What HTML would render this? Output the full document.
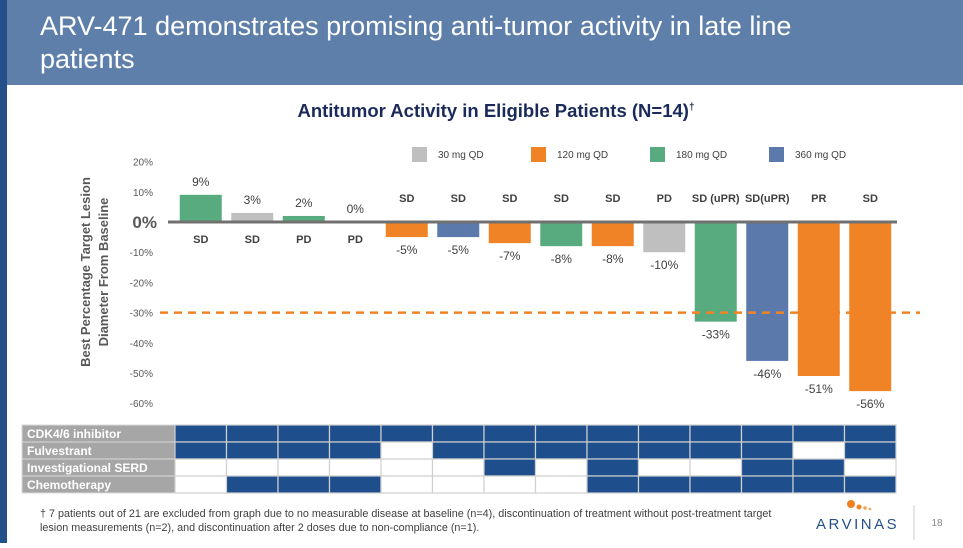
<!DOCTYPE html>
<html><head><meta charset="utf-8"><style>
body{margin:0;width:963px;height:543px;overflow:hidden;background:#fff;font-family:"Liberation Sans",sans-serif;}
</style></head><body>
<svg id="s" width="963" height="543" xmlns="http://www.w3.org/2000/svg" font-family="Liberation Sans, sans-serif">
<rect x="0" y="0" width="963" height="85" fill="#5f7fab"/>
<rect x="0" y="0" width="7" height="543" fill="#24508a"/>
<text x="40" y="35" font-size="27" fill="#fff">ARV-471 demonstrates promising anti-tumor activity in late line</text>
<text x="40" y="68" font-size="27" fill="#fff">patients</text>
<text x="496" y="117" font-size="18.5" font-weight="bold" fill="#1a2a5a" text-anchor="middle">Antitumor Activity in Eligible Patients (N=14)<tspan font-size="10" dy="-7">†</tspan></text>
<text transform="translate(90,272) rotate(-90)" font-size="13" font-weight="bold" fill="#595959" text-anchor="middle">Best Percentage Target Lesion</text>
<text transform="translate(108,272) rotate(-90)" font-size="13" font-weight="bold" fill="#595959" text-anchor="middle">Diameter From Baseline</text>
<g id="chart"></g>
<g id="table"></g>
<text x="40" y="517" font-size="10.8" fill="#404040">† 7 patients out of 21 are excluded from graph due to no measurable disease at baseline (n=4), discontinuation of treatment without post-treatment target</text>
<text x="40" y="531" font-size="10.8" fill="#404040">lesion measurements (n=2), and discontinuation after 2 doses due to non-compliance (n=1).</text>
<circle cx="851" cy="504" r="4" fill="#f08020"/>
<circle cx="859" cy="507" r="2.5" fill="#f08020"/>
<circle cx="865" cy="508" r="1.8" fill="#f5a050"/>
<circle cx="870" cy="509" r="1.3" fill="#f5a050"/>
<text x="816" y="529" font-size="15" fill="#24508a" letter-spacing="2.5">ARVINAS</text>
<line x1="914" y1="505" x2="914" y2="540" stroke="#ccc"/>
<text x="937" y="526" font-size="10" fill="#888" text-anchor="middle">18</text>
</svg>
<script>
const values=[9,3,2,0,-5,-5,-7,-8,-8,-10,-33,-46,-51,-56];
const doses=["180","30","180","180","120","360","120","180","120","30","180","360","120","120"];
const responses=["SD","SD","PD","PD","SD","SD","SD","SD","SD","PD","SD (uPR)","SD(uPR)","PR","SD"];
const yTicks=[20,10,0,-10,-20,-30,-40,-50,-60];
const rowNames=["CDK4/6 inhibitor","Fulvestrant","Investigational SERD","Chemotherapy"];
const cdk=[1,1,1,1,1,1,1,1,1,1,1,1,1,1];
const fulv=[1,1,1,1,0,1,1,1,1,1,1,1,0,1];
const serd=[0,0,0,0,0,0,1,0,1,0,0,1,1,0];
const chemo=[0,1,1,1,0,0,0,0,1,1,1,1,1,1];
const legendDoses=["30","120","180","360"];
const colors={"30":"#bfbfbf","120":"#f08326","180":"#58ab7e","360":"#5b7aab"};
const NS="http://www.w3.org/2000/svg";
const y=v=>222-v*3.02;
const x0=175,pitch=51.5;
const cx=i=>x0+pitch*(i+0.5);
function mk(p,tag,attrs,txt){const e=document.createElementNS(NS,tag);for(const k in attrs)e.setAttribute(k,attrs[k]);if(txt!==undefined)e.textContent=txt;p.appendChild(e);return e;}
const g=document.getElementById('chart');
yTicks.forEach(t=>{
  const e=mk(g,'text',{x:t===0?157:153,y:y(t)+(t===0?6:4),'font-size':t===0?17:10,'font-weight':t===0?'bold':'normal',fill:'#595959','text-anchor':'end'},t+'%');
  
  
});
values.forEach((v,i)=>{
  const top=Math.min(y(v),y(0)),h=Math.abs(y(v)-y(0));
  const r=mk(g,'rect',{x:cx(i)-21,y:top,width:42,height:Math.max(h,0.01),fill:colors[doses[i]]});
  
  
  const vl=mk(g,'text',{x:cx(i),y:v>=0?y(v)-9:y(v)+17,'font-size':12,fill:'#404040','text-anchor':'middle'},v+'%');
  
  
  const rl=mk(g,'text',{x:cx(i),y:v>=0?243:202,'font-size':11,'font-weight':'bold',fill:'#404040','text-anchor':'middle'},responses[i]);
  
  
});
const ax=mk(g,'line',{x1:168,x2:897,y1:y(0),y2:y(0),stroke:'#707070','stroke-width':3});


const th=mk(g,'line',{x1:160,x2:920,y1:y(-30),y2:y(-30),stroke:'#f08326','stroke-width':2.5,'stroke-dasharray':'8,6'});


legendDoses.forEach((d,i)=>{
  const lx=[412,531,650,769][i];
  const s=mk(g,'rect',{x:lx,y:147,width:15,height:15,fill:colors[d]});
  
  
  const t=mk(g,'text',{x:lx+26,y:158,'font-size':10,fill:'#404040'},d+' mg QD');
  
  
});
const tg=document.getElementById('table');
[cdk,fulv,serd,chemo].forEach((row,r)=>{
  const ry=425+r*17;
  const lb=mk(tg,'rect',{x:22,y:ry,width:153,height:17,fill:'#a6a6a6',stroke:'#d9d9d9'});
  
  
  const lt=mk(tg,'text',{x:27,y:ry+13,'font-size':12,'font-weight':'bold',fill:'#fff'},rowNames[r]);
  
  
  row.forEach((c,i)=>{
    const cell=mk(tg,'rect',{x:x0+pitch*i,y:ry,width:pitch,height:17,fill:c?'#1f4e8c':'#fff',stroke:'#d0d0d0','stroke-width':1.2});
    
    
  });
});
</script>
</body></html>
